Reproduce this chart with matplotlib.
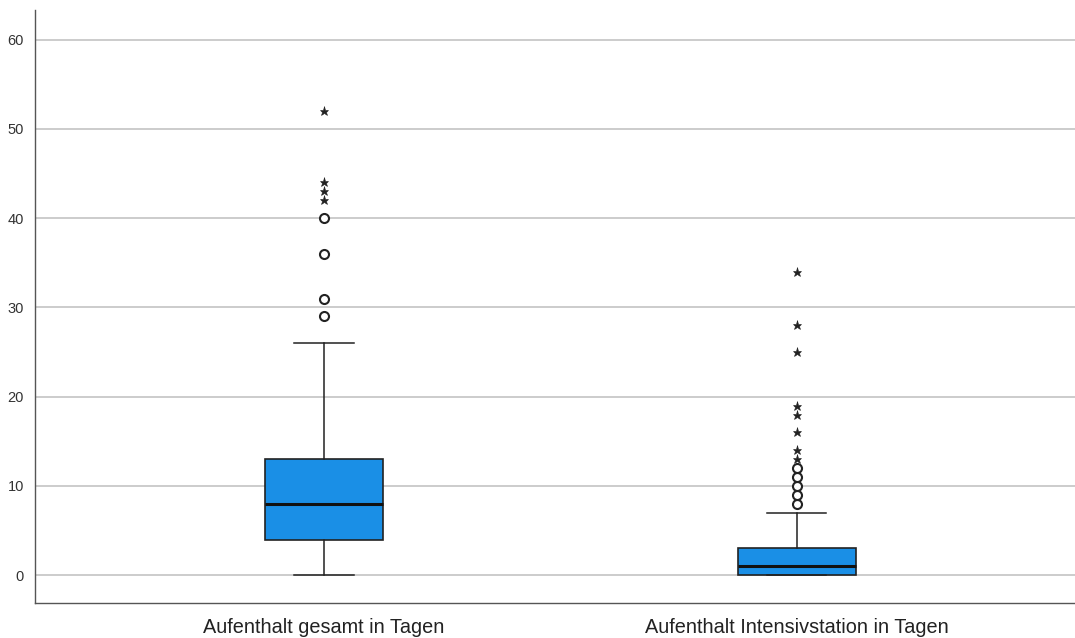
import matplotlib
matplotlib.use("Agg")
import matplotlib.pyplot as plt

plt.rcParams["font.family"] = ["Liberation Sans", "DejaVu Sans"]

# Aufenthaltsdauer (Tage) - Kennwerte je Variable
labels = ["Aufenthalt gesamt in Tagen", "Aufenthalt Intensivstation in Tagen"]
whisker_low = [0, 0]
q1 = [4, 0]
median = [8, 1]
q3 = [13, 3]
whisker_high = [26, 7]
# Ausreisser (Kreis) und Extremwerte (Stern)
outliers = [[29, 31, 36, 40], [8, 9, 10, 11, 12]]
extremes = [[42, 43, 44, 52], [13, 14, 16, 18, 19, 25, 28, 34]]

fig = plt.figure(figsize=(10.75, 6.38), dpi=100)
ax = fig.add_axes([0.0326, 0.055, 0.9674, 0.929])

stats = []
for i, name in enumerate(labels):
    stats.append(dict(label=name, whislo=whisker_low[i], q1=q1[i], med=median[i],
                      q3=q3[i], whishi=whisker_high[i], fliers=[]))

positions = [1, 2]
ax.bxp(stats, positions=positions, widths=0.25, patch_artist=True, showfliers=False,
       boxprops=dict(facecolor="#1a8fe6", edgecolor="#222222", linewidth=1.2),
       medianprops=dict(color="#111111", linewidth=2.2),
       whiskerprops=dict(color="#222222", linewidth=1.1),
       capprops=dict(color="#222222", linewidth=1.1),
       capwidths=0.125, zorder=3)

for pos, circ, star in zip(positions, outliers, extremes):
    ax.plot([pos] * len(circ), circ, linestyle="none", marker="o", markersize=6.5,
            markerfacecolor="white", markeredgecolor="#222222", markeredgewidth=1.5, zorder=4)
    ax.plot([pos] * len(star), star, linestyle="none", marker="*", markersize=6.5,
            color="#222222", markeredgewidth=0.4, zorder=4)

ax.set_xlim(0.389, 2.588)
ax.set_ylim(-3.1, 63.3)
ax.set_yticks([0, 10, 20, 30, 40, 50, 60])
ax.set_xticks(positions)
ax.set_xticklabels(labels, fontsize=14.3, color="#222222")
ax.tick_params(axis="y", length=0, labelsize=10.5, labelcolor="#333333", pad=8)
ax.tick_params(axis="x", length=0, pad=11)

ax.yaxis.grid(True, color="#c8c8c8", linewidth=1.3)
ax.set_axisbelow(True)
for side in ["top", "right"]:
    ax.spines[side].set_visible(False)
for side in ["left", "bottom"]:
    ax.spines[side].set_color("#555555")
    ax.spines[side].set_linewidth(1.0)

fig.savefig("out.png", dpi=100)
